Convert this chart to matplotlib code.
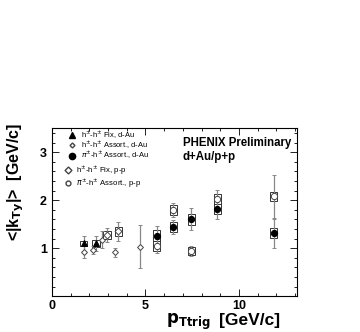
import matplotlib.pyplot as plt
from matplotlib.patches import Rectangle
from matplotlib.ticker import MultipleLocator

plt.rcParams['font.family'] = ['Liberation Sans', 'DejaVu Sans']

# h+-h+ Fix, d-Au
hfix_dau_x = [1.7, 2.35]
hfix_dau_y = [1.10, 1.10]
hfix_dau_err = [0.16, 0.16]
hfix_dau_sys = [0.05, 0.08]

# h+-h+ Assort., d-Au
hass_dau_x = [1.7, 2.2, 2.7, 3.4, 4.7]
hass_dau_y = [0.92, 0.96, 1.18, 0.91, 1.03]
hass_dau_err = [0.12, 0.08, 0.17, 0.1, 0.45]

# pi-h Assort., d-Au
pi_dau_x = [5.6, 6.5, 7.45, 8.85, 11.85]
pi_dau_y = [1.26, 1.44, 1.60, 1.81, 1.31]
pi_dau_err = [0.2, 0.15, 0.23, 0.2, 0.3]
pi_dau_sys = [0.11, 0.1, 0.12, 0.1, 0.1]

# h-h Fix, p-p
hfix_pp_x = [2.95, 3.55]
hfix_pp_y = [1.27, 1.35]
hfix_pp_err = [0.15, 0.2]
hfix_pp_sys = [0.08, 0.09]

# pi-h Assort., p-p
pi_pp_x = [5.6, 6.5, 7.45, 8.85, 11.85]
pi_pp_y = [1.05, 1.79, 0.94, 2.02, 2.08]
pi_pp_err = [0.15, 0.15, 0.1, 0.2, 0.45]
pi_pp_sys = [0.1, 0.1, 0.09, 0.1, 0.1]

fig = plt.figure(figsize=(3.6, 3.32), dpi=100)
ax = fig.add_axes([0.144, 0.108, 0.681, 0.506])

def boxes(xs, ys, ss, w=0.4):
    for x, y, s in zip(xs, ys, ss):
        ax.add_patch(Rectangle((x - w / 2, y - s), w, 2 * s, fill=False,
                               edgecolor='#333333', lw=0.7, zorder=2))

boxes(hfix_dau_x, hfix_dau_y, hfix_dau_sys)
boxes(pi_dau_x, pi_dau_y, pi_dau_sys)
boxes(hfix_pp_x, hfix_pp_y, hfix_pp_sys)
boxes(pi_pp_x, pi_pp_y, pi_pp_sys)

eb = dict(ls='none', ecolor='#888888', elinewidth=0.9, capsize=1.2, capthick=0.8,
          markeredgewidth=0.7, zorder=3)
ax.errorbar(hfix_dau_x, hfix_dau_y, yerr=hfix_dau_err, marker='^', ms=4,
            color='black', **eb)
ax.errorbar(hass_dau_x, hass_dau_y, yerr=hass_dau_err, marker='D', ms=3,
            mfc='white', mec='#444444', **eb)
ax.errorbar(pi_dau_x, pi_dau_y, yerr=pi_dau_err, marker='o', ms=4.5,
            color='black', **eb)
ax.errorbar(hfix_pp_x, hfix_pp_y, yerr=hfix_pp_err, marker='D', ms=3.5,
            mfc='white', mec='#444444', **eb)
ax.errorbar(pi_pp_x, pi_pp_y, yerr=pi_pp_err, marker='o', ms=4.5,
            mfc='white', mec='#444444', **eb)

ax.set_xlim(0, 13.1)
ax.set_ylim(0, 3.5)
ax.xaxis.set_minor_locator(MultipleLocator(1))
ax.tick_params(which='both', direction='in', top=True, right=True, width=0.6)
ax.tick_params(which='major', length=5, labelsize=9)
ax.tick_params(axis='x', which='major', pad=2.5)
ax.tick_params(which='minor', length=2.5)
ax.set_yticks([1, 2, 3])
ax.set_yticklabels(['1', '2', '3'], fontweight='bold')
ax.set_yticks([i * 0.2 for i in range(18)], minor=True)
ax.set_xticks([0, 5, 10])
ax.set_xticklabels(['0', '5', '10'], fontweight='bold')
for spine in ax.spines.values():
    spine.set_linewidth(0.8)

# legend
leg1 = [('^', 'black', 'black', 4, r'h$^{\pm}$-h$^{\pm}$ Fix, d-Au'),
        ('D', 'white', '#444444', 2.5, r'h$^{\pm}$-h$^{\pm}$ Assort., d-Au'),
        ('o', 'black', 'black', 4.5, r'$\pi^{\pm}$-h$^{\pm}$ Assort., d-Au')]
for i, (m, fc, ec, s, t) in enumerate(leg1):
    yy = 3.35 - i * 0.21
    ax.plot([1.1], [yy], marker=m, ms=s, mfc=fc, mec=ec, ls='none', clip_on=False)
    ax.text(1.55, yy, t, fontsize=5.4, va='center')
leg2 = [('D', r'h$^{\pm}$-h$^{\pm}$ Fix, p-p'),
        ('o', r'$\pi^{\pm}$-h$^{\pm}$ Assort., p-p')]
for i, (m, t) in enumerate(leg2):
    yy = 2.63 - i * 0.28
    ax.plot([0.85], [yy], marker=m, ms=3.5, mfc='white', mec='#444444', ls='none')
    ax.text(1.3, yy, t, fontsize=5.6, va='center')

ax.text(7.0, 3.2, 'PHENIX Preliminary', fontsize=8.3, fontweight='bold', va='center')
ax.text(7.0, 2.9, 'd+Au/p+p', fontsize=8.3, fontweight='bold', va='center')

fig.text(166 / 360, 1 - 322 / 332, r'$\mathbf{p_{Ttrig}}$', fontsize=12,
         va='center', ha='left')
fig.text(219 / 360, 1 - 320 / 332, '[GeV/c]', fontsize=12.5, fontweight='bold',
         va='center', ha='left')
fig.text(16 / 360, 1 - 182 / 332, r'<|k$_{\mathbf{Ty}}$|>  [GeV/c]', fontsize=11.5,
         fontweight='bold', rotation=90, va='center', ha='center')

fig.savefig('out.png', dpi=100)
